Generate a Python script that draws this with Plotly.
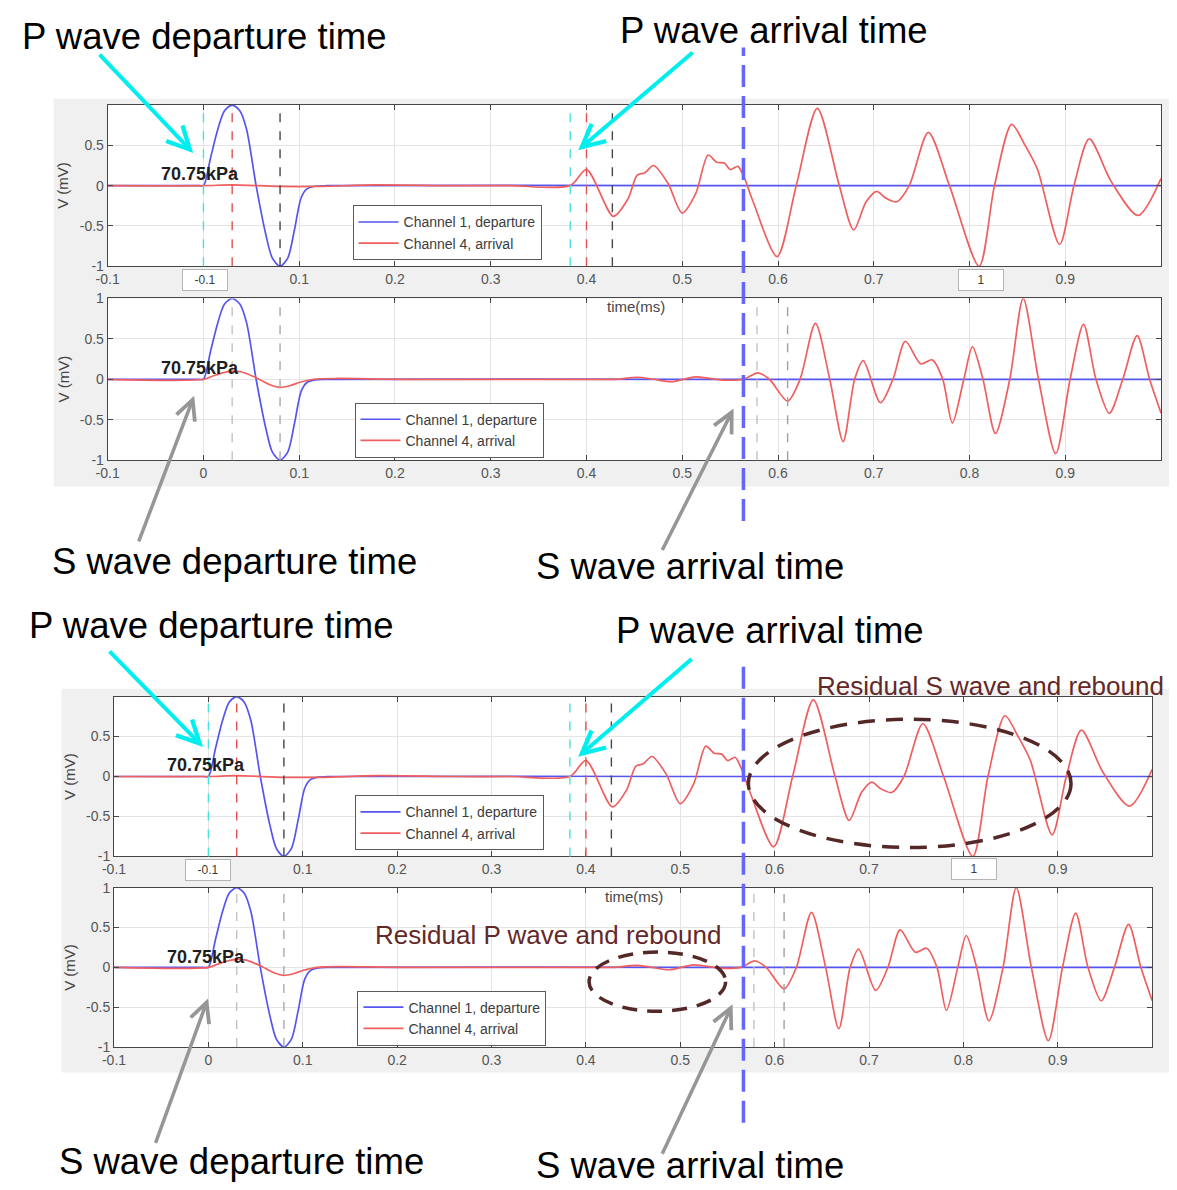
import plotly.graph_objects as go

# The page keeps the browser's default 8px body margin, so the figure is made
# 16px smaller than the window and reference pixels are shifted by 8px.
OFF = 8
WF, HF = 1177 - 2 * OFF, 1190 - 2 * OFF

# ---------------- data ----------------
# Channel 1 (departure) - same in every panel
t_ch1 = [-0.1, -0.005, 0.0, 0.0075, 0.015, 0.022, 0.03, 0.038, 0.045, 0.055, 0.065, 0.072,
         0.08, 0.088, 0.095, 0.102, 0.108, 0.115, 0.13, 0.5, 1.0]
v_ch1 = [0.0, 0.0, 0.0, 0.35, 0.7, 0.93, 1.0, 0.93, 0.7, 0.0, -0.6, -0.9,
         -1.0, -0.9, -0.55, -0.15, -0.04, -0.01, 0.0, 0.0, 0.0]

# Channel 4 (arrival), P-wave record (upper axes)
t_ch4_p = [-0.1, 0.0, 0.03, 0.08, 0.12, 0.18, 0.26, 0.32, 0.383, 0.400, 0.428, 0.443, 0.453,
           0.461, 0.470, 0.485, 0.500, 0.514, 0.527, 0.536, 0.544, 0.550, 0.558, 0.564,
           0.574, 0.599, 0.619, 0.641, 0.664, 0.679, 0.692, 0.703, 0.712, 0.724, 0.737,
           0.757, 0.779, 0.810, 0.826, 0.844, 0.858, 0.871, 0.894, 0.909, 0.925, 0.948,
           0.976, 1.0]
v_ch4_p = [0.0, 0.0, 0.01, -0.01, -0.01, 0.01, 0.0, 0.0, 0.0, 0.2, -0.38, -0.17, 0.13,
           0.16, 0.25, 0.03, -0.34, -0.1, 0.38, 0.29, 0.28, 0.2, 0.24, 0.12,
           -0.2, -0.88, 0.0, 0.96, 0.0, -0.55, -0.2, -0.07, -0.15, -0.2, 0.0,
           0.66, 0.0, -1.0, 0.0, 0.76, 0.5, 0.2, -0.73, 0.0, 0.58, 0.05,
           -0.37, 0.09]

# Channel 4 (arrival), S-wave record (lower axes)
t_ch4_s = [-0.1, 0.0, 0.01, 0.02, 0.03, 0.04, 0.055, 0.07, 0.08, 0.09, 0.1, 0.115, 0.14,
           0.2, 0.3, 0.4, 0.43, 0.453, 0.47, 0.489, 0.514, 0.542, 0.564, 0.579, 0.591,
           0.610, 0.623, 0.639, 0.654, 0.668, 0.680, 0.689, 0.707, 0.720, 0.733, 0.749,
           0.761, 0.772, 0.782, 0.794, 0.803, 0.814, 0.827, 0.842, 0.856, 0.872, 0.890,
           0.905, 0.919, 0.932, 0.946, 0.960, 0.975, 0.988, 1.0]
v_ch4_s = [0.0, 0.0, 0.04, 0.08, 0.1, 0.09, 0.02, -0.07, -0.1, -0.08, -0.04, 0.0, 0.01,
           0.0, 0.0, 0.0, 0.0, 0.025, 0.0, -0.03, 0.03, -0.01, 0.0, 0.08, 0.0,
           -0.27, 0.0, 0.69, 0.0, -0.77, 0.0, 0.23, -0.29, 0.0, 0.47, 0.19,
           0.24, 0.0, -0.54, 0.0, 0.40, 0.0, -0.67, 0.0, 1.0, 0.0, -0.92,
           0.0, 0.68, 0.0, -0.42, 0.0, 0.54, 0.0, -0.42]

x_tickvals = [-0.1, 0.0, 0.1, 0.2, 0.3, 0.4, 0.5, 0.6, 0.7, 0.8, 0.9]
x_ticktext_full = ["-0.1", "0", "0.1", "0.2", "0.3", "0.4", "0.5", "0.6", "0.7", "0.8", "0.9"]
x_ticktext_cov = ["-0.1", "", "0.1", "0.2", "0.3", "0.4", "0.5", "0.6", "0.7", "", "0.9"]
y_tickvals = [-1, -0.5, 0, 0.5, 1]
y_ticktext_full = ["-1", "-0.5", "0", "0.5", "1"]
y_ticktext_cov = ["-1", "-0.5", "0", "0.5", ""]

# marker times (ms)
p_markers = [(0.0, "rgb(70,225,225)"), (0.03, "rgb(225,80,80)"), (0.08, "rgb(70,70,70)"),
             (0.383, "rgb(70,225,225)"), (0.40, "rgb(225,80,80)"), (0.427, "rgb(70,70,70)")]
s_markers = [(0.03, "rgb(195,195,195)"), (0.08, "rgb(170,170,170)"),
             (0.578, "rgb(195,195,195)"), (0.61, "rgb(160,160,160)")]

BLUE = "rgb(85,85,240)"
RED = "rgb(240,95,95)"
BROWN = "rgb(100,40,40)"
FONT = "Liberation Sans, Arial, sans-serif"


def fx(p):
    return (p - OFF) / WF


def fy(p):
    return 1 - (p - OFF) / HF


# axes pixel boxes: left, right, top, bottom
axes_px = {
    1: (96.6, 1161, 98.3, 261.7),
    2: (96.6, 1161, 294.3, 458.3),
    3: (103, 1152, 698, 860),
    4: (103, 1152, 891.7, 1053.3),
}
legend_px = {1: (344, 200), 2: (346, 400), 3: (346, 798), 4: (349, 996)}

fig = go.Figure()
shapes = []
annotations = []

# panel backgrounds
shapes.append(dict(type="rect", xref="paper", yref="paper", x0=fx(42), x1=fx(1169), y0=fy(485), y1=fy(92),
                   fillcolor="rgb(240,240,240)", line=dict(width=0), layer="below"))
shapes.append(dict(type="rect", xref="paper", yref="paper", x0=fx(50), x1=fx(1169), y0=fy(1079), y1=fy(690),
                   fillcolor="rgb(240,240,240)", line=dict(width=0), layer="below"))

layout_axes = {}
for k in range(1, 5):
    xa = "x" if k == 1 else f"x{k}"
    ya = "y" if k == 1 else f"y{k}"
    lg = "legend" if k == 1 else f"legend{k}"
    is_p = k in (1, 3)
    red_t, red_v = (t_ch4_p, v_ch4_p) if is_p else (t_ch4_s, v_ch4_s)
    fig.add_trace(go.Scatter(x=t_ch1, y=v_ch1, mode="lines", name="Channel 1, departure",
                             line=dict(color=BLUE, width=1.7, shape="spline", smoothing=0.8),
                             xaxis=xa, yaxis=ya, legend=lg, hoverinfo="skip"))
    fig.add_trace(go.Scatter(x=red_t, y=red_v, mode="lines", name="Channel 4, arrival",
                             line=dict(color=RED, width=1.7, shape="spline", smoothing=0.8),
                             xaxis=xa, yaxis=ya, legend=lg, hoverinfo="skip"))
    l, r, t, b = axes_px[k]
    shapes.append(dict(type="rect", xref="paper", yref="paper", x0=fx(l), x1=fx(r), y0=fy(b), y1=fy(t),
                       fillcolor="white", line=dict(width=0), layer="below"))
    axcommon = dict(showline=True, linecolor="rgb(70,70,70)", linewidth=1, mirror="ticks",
                    ticks="inside", ticklen=5, tickcolor="rgb(70,70,70)", showgrid=True,
                    gridcolor="rgb(228,228,228)", gridwidth=1, zeroline=False,
                    tickfont=dict(family=FONT, size=14, color="rgb(85,85,85)"))
    layout_axes["xaxis" if k == 1 else f"xaxis{k}"] = dict(
        domain=[fx(l), fx(r)], range=[-0.1, 1.0], anchor=ya, tickvals=x_tickvals,
        ticktext=x_ticktext_cov if is_p else x_ticktext_full, **axcommon)
    layout_axes["yaxis" if k == 1 else f"yaxis{k}"] = dict(
        domain=[fy(b), fy(t)], range=[-1, 1], anchor=xa, tickvals=y_tickvals,
        ticktext=y_ticktext_cov if is_p else y_ticktext_full, **axcommon)
    lx, lyy = legend_px[k]
    layout_axes[lg] = dict(x=fx(lx), y=fy(lyy), xanchor="left", yanchor="top", bgcolor="white",
                           bordercolor="rgb(90,90,90)", borderwidth=1,
                           font=dict(family=FONT, size=14, color="rgb(60,60,60)"),
                           tracegroupgap=0, itemwidth=40)
    # marker lines
    for tm, col in (p_markers if is_p else s_markers):
        shapes.append(dict(type="line", xref=xa, yref=f"{ya} domain", x0=tm, x1=tm, y0=0, y1=1,
                           line=dict(color=col, width=1.4, dash="dash"), layer="above"))
    # pressure label
    annotations.append(dict(x=-0.046, y=0.14 if k != 4 else 0.13, xref=xa, yref=ya, text="<b>70.75kPa</b>",
                            showarrow=False, xanchor="left", yanchor="middle",
                            font=dict(family=FONT, size=18, color="rgb(30,30,30)")))
    # y label
    annotations.append(dict(x=fx(l - 45), y=fy((t + b) / 2), xref="paper", yref="paper", text="V (mV)",
                            textangle=-90, showarrow=False, xanchor="center", yanchor="middle",
                            font=dict(family=FONT, size=15, color="rgb(70,70,70)")))

# time labels and covering boxes
for (cx, cy) in [(630, 303), (628, 901)]:
    annotations.append(dict(x=fx(cx), y=fy(cy), xref="paper", yref="paper", text="time(ms)", showarrow=False,
                            xanchor="center", yanchor="middle",
                            font=dict(family=FONT, size=15, color="rgb(70,70,70)")))
for (cx, cy, txt) in [(195, 276, "-0.1"), (979, 276, "1"), (198, 874, "-0.1"), (972, 873, "1")]:
    annotations.append(dict(x=fx(cx), y=fy(cy), xref="paper", yref="paper", text=txt, showarrow=False,
                            xanchor="center", yanchor="middle",
                            bgcolor="white", bordercolor="rgb(180,180,180)", borderwidth=1,
                            width=42, height=18, font=dict(family=FONT, size=12, color="rgb(60,60,60)")))

# big labels
big = [("P wave departure time", 194, 29), ("P wave arrival time", 770, 23),
       ("S wave departure time", 225, 561), ("S wave arrival time", 685, 566),
       ("P wave departure time", 202, 626), ("P wave arrival time", 766, 631),
       ("S wave departure time", 232, 1169), ("S wave arrival time", 685, 1173)]
for txt, cx, cy in big:
    annotations.append(dict(x=fx(cx), y=fy(cy), xref="paper", yref="paper", text=txt, showarrow=False,
                            xanchor="center", yanchor="middle",
                            font=dict(family=FONT, size=36.5, color="black")))
for txt, cx, cy in [("Residual S wave and rebound", 989, 687), ("Residual P wave and rebound", 542, 940)]:
    annotations.append(dict(x=fx(cx), y=fy(cy), xref="paper", yref="paper", text=txt, showarrow=False,
                            xanchor="center", yanchor="middle",
                            font=dict(family=FONT, size=26, color=BROWN)))

# arrows: (tail, tip, colour)
arrows = [((88, 47), (183, 147), "rgb(0,238,238)"),
          ((688, 45), (572, 144), "rgb(0,238,238)"),
          ((128, 540), (184, 393), "rgb(150,150,150)"),
          ((657, 549), (729, 406), "rgb(150,150,150)"),
          ((98, 652), (193, 749), "rgb(0,238,238)"),
          ((687, 660), (572, 759), "rgb(0,238,238)"),
          ((145, 1150), (198, 1004), "rgb(150,150,150)"),
          ((657, 1161), (728, 1010), "rgb(150,150,150)")]
for (tx, ty), (hx, hy), col in arrows:
    annotations.append(dict(x=fx(hx), y=fy(hy), xref="paper", yref="paper", ax=tx - hx, ay=ty - hy,
                            axref="pixel", ayref="pixel", text="", showarrow=True, arrowhead=5,
                            arrowsize=1.1, arrowwidth=4 if "238" in col else 3.5, arrowcolor=col,
                            standoff=0))

# long blue dashed time line
for y0, y1 in [(40, 520), (660, 1130)]:
    shapes.append(dict(type="line", xref="paper", yref="paper", x0=fx(739), x1=fx(739), y0=fy(y1), y1=fy(y0),
                       line=dict(color="rgb(100,100,255)", width=3.5, dash="22px,9px"), layer="above"))
# dashed ellipses
shapes.append(dict(type="circle", xref="paper", yref="paper", x0=fx(744), x1=fx(1070), y0=fy(851), y1=fy(721),
                   line=dict(color="rgb(85,40,40)", width=3.5, dash="17px,11px"), layer="above"))
shapes.append(dict(type="circle", xref="paper", yref="paper", x0=fx(583), x1=fx(721), y0=fy(1017), y1=fy(957),
                   line=dict(color="rgb(85,40,40)", width=3.5, dash="15px,10px"), layer="above"))

fig.update_layout(width=WF, height=HF, autosize=False, margin=dict(l=0, r=0, t=0, b=0),
                  paper_bgcolor="white", plot_bgcolor="rgba(0,0,0,0)", showlegend=True,
                  shapes=shapes, annotations=annotations, **layout_axes)

fig.write_html("out.html", config={"displayModeBar": False})
